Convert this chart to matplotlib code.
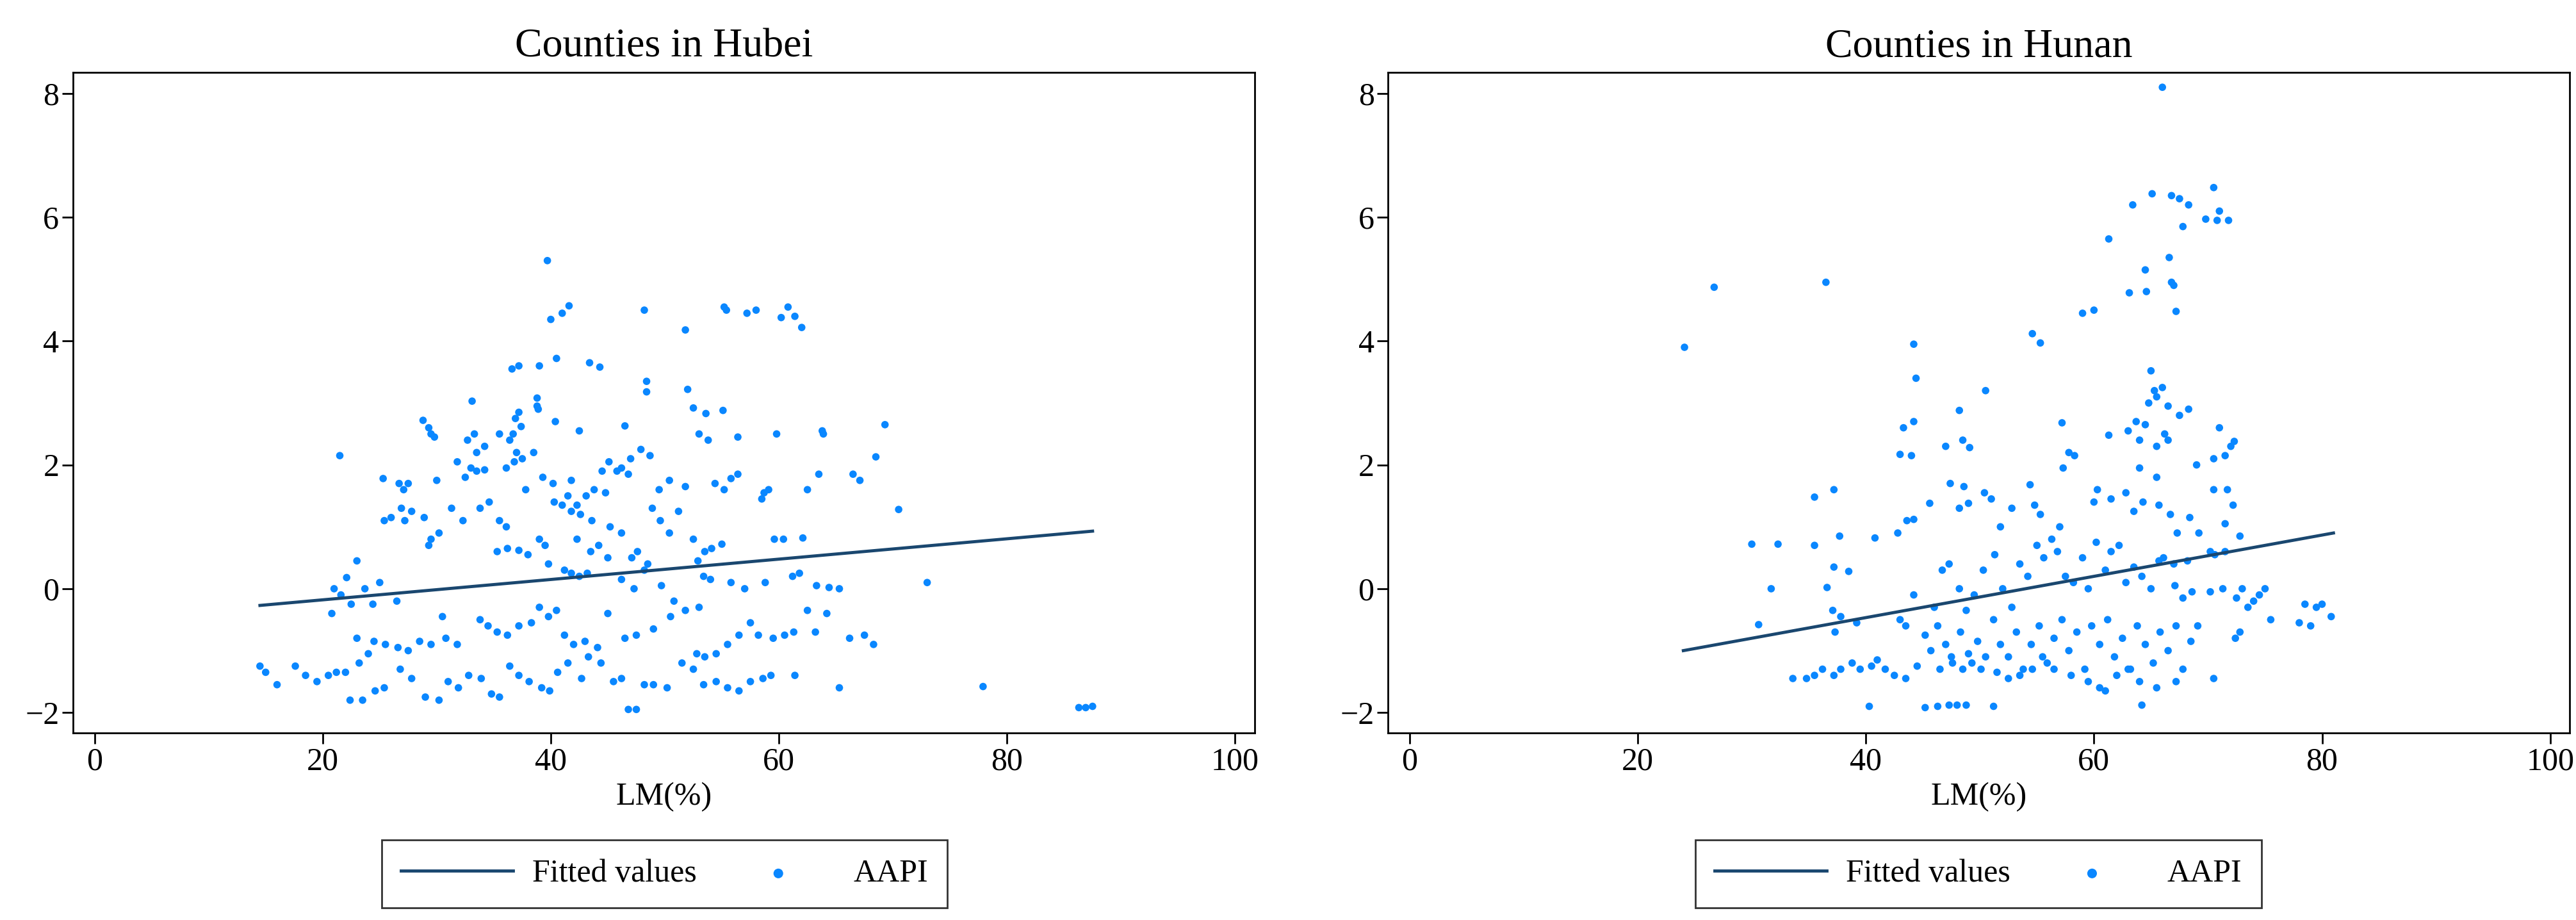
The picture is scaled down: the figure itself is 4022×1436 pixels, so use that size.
import matplotlib
matplotlib.use("Agg")
import matplotlib.pyplot as plt
import numpy as np

plt.rcParams['font.family'] = ['Liberation Serif', 'DejaVu Serif']

# points, (LM %, AAPI)
hubei_pts = [
    (39.7,5.3),(41.6,4.57),(41,4.45),(40,4.35),(48.2,4.5),(51.8,4.18),(55.2,4.55),(55.4,4.5),(57.2,4.45),(58,4.5),
    (60.8,4.55),(60.2,4.38),(61.4,4.4),(62,4.22),(40.5,3.72),(39,3.6),(36.6,3.55),(37.2,3.6),(43.4,3.65),(44.3,3.58),
    (48.4,3.35),(48.4,3.18),(52,3.22),(33.1,3.03),(38.8,3.08),(38.8,2.95),(38.9,2.9),(52.5,2.92),(53.6,2.83),(55.1,2.88),
    (42.5,2.55),(40.4,2.7),(37.2,2.85),(36.9,2.75),(37.4,2.62),(36.7,2.5),(36.4,2.4),(37,2.2),(36.8,2.05),(37.5,2.1),
    (28.8,2.72),(29.3,2.6),(29.5,2.5),(29.8,2.45),(33.3,2.5),(34.2,2.3),(32.7,2.4),(33.5,2.2),(35.5,2.5),(38.5,2.2),
    (46.5,2.63),(53,2.5),(53.8,2.4),(56.4,2.45),(59.8,2.5),(63.8,2.55),(63.9,2.5),(69.3,2.65),(21.5,2.15),(68.5,2.13),
    (47.9,2.25),(48.7,2.15),(47,2.1),(46.2,1.95),(45.8,1.9),(46.8,1.85),(45.1,2.05),(33,1.95),(33.5,1.9),(34.2,1.92),
    (31.8,2.05),(32.5,1.8),(30,1.75),(36.1,1.95),(37.8,1.6),(39.3,1.8),(40.2,1.7),(41.8,1.75),(43.8,1.6),(44.5,1.9),
    (44.8,1.55),(49.5,1.6),(50.4,1.75),(51.8,1.65),(54.4,1.7),(55.2,1.6),(56.4,1.85),(55.8,1.78),(58.7,1.55),(59.1,1.6),
    (58.5,1.45),(63.5,1.85),(66.5,1.85),(67.1,1.75),(62.5,1.6),(70.5,1.28),(25.3,1.78),(26.7,1.7),(27.1,1.6),(27.5,1.7),
    (26.9,1.3),(27.2,1.1),(25.4,1.1),(26,1.15),(27.8,1.25),(28.9,1.15),(29.5,0.8),(29.3,0.7),(30.2,0.9),(31.3,1.3),
    (32.3,1.1),(33.8,1.3),(34.6,1.4),(35.5,1.1),(36.1,1.0),(35.3,0.6),(36.2,0.65),(37.2,0.62),(38,0.55),(39,0.8),
    (39.5,0.7),(39.8,0.4),(40.3,1.4),(41,1.35),(41.5,1.5),(42.3,1.35),(42.6,1.2),(41.8,1.25),(43.1,1.5),(43.6,1.1),
    (42.3,0.8),(43.5,0.6),(44.2,0.7),(45,0.5),(41.2,0.3),(41.8,0.25),(42.5,0.2),(43.2,0.25),(45.2,1.0),(46.2,0.9),
    (47.1,0.5),(47.6,0.6),(48.5,0.4),(48.9,1.3),(49.6,1.1),(50.4,0.9),(51.2,1.25),(52.5,0.8),(53.5,0.6),(54.1,0.65),
    (55,0.72),(52.9,0.45),(53.4,0.2),(54,0.15),(55.8,0.1),(57,0.0),(58.8,0.1),(59.6,0.8),(60.4,0.8),(61.2,0.2),
    (61.8,0.25),(62.1,0.82),(63.3,0.05),(64.4,0.02),(65.3,0.0),(73,0.1),(46.2,0.15),(47.3,0.0),(48.2,0.3),(49.7,0.05),
    (50.8,-0.2),(51.8,-0.35),(53,-0.3),(21,0.0),(21.6,-0.1),(22.1,0.18),(23,0.45),(23.7,0.0),(24.4,-0.25),(25,0.1),
    (26.5,-0.2),(22.5,-0.25),(20.8,-0.4),(23,-0.8),(24.5,-0.85),(25.5,-0.9),(26.6,-0.95),(27.5,-1.0),(28.5,-0.85),(29.5,-0.9),
    (30.8,-0.8),(31.8,-0.9),(30.5,-0.45),(33.8,-0.5),(34.5,-0.6),(35.3,-0.7),(36.2,-0.75),(37.2,-0.6),(38.3,-0.55),(39,-0.3),
    (39.8,-0.45),(40.5,-0.35),(41.2,-0.75),(42,-0.9),(43,-0.85),(44.1,-0.95),(45,-0.4),(46.5,-0.8),(47.5,-0.75),(49,-0.65),
    (50.5,-0.45),(52.8,-1.05),(53.5,-1.1),(54.5,-1.05),(55.5,-0.9),(56.5,-0.75),(57.5,-0.55),(58.2,-0.75),(59.5,-0.8),(60.5,-0.75),
    (61.3,-0.7),(62.5,-0.35),(63.2,-0.7),(64.2,-0.4),(66.2,-0.8),(67.5,-0.75),(68.3,-0.9),(14.5,-1.25),(15,-1.35),(16,-1.55),
    (17.6,-1.25),(18.5,-1.4),(19.5,-1.5),(20.5,-1.4),(21.2,-1.35),(22.4,-1.8),(23.5,-1.8),(24.6,-1.65),(25.4,-1.6),(22,-1.35),
    (23.2,-1.2),(24,-1.05),(26.8,-1.3),(27.8,-1.45),(29,-1.75),(30.2,-1.8),(31,-1.5),(31.9,-1.6),(32.8,-1.4),(33.9,-1.45),
    (34.8,-1.7),(35.5,-1.75),(36.4,-1.25),(37.2,-1.4),(38.1,-1.5),(39.2,-1.6),(39.9,-1.65),(40.6,-1.35),(41.5,-1.2),(42.7,-1.45),
    (43.3,-1.1),(44.4,-1.2),(45.5,-1.5),(46.2,-1.45),(46.8,-1.95),(47.5,-1.95),(48.2,-1.55),(49,-1.55),(50.2,-1.6),(51.5,-1.2),
    (52.5,-1.3),(53.4,-1.55),(54.5,-1.5),(55.5,-1.6),(56.5,-1.65),(57.5,-1.5),(58.6,-1.45),(59.3,-1.4),(61.4,-1.4),(65.3,-1.6),
    (77.9,-1.58),(86.3,-1.92),(86.9,-1.92),(87.5,-1.9),
]

hunan_pts = [
    (66,8.1),(70.5,6.48),(71,6.1),(69.8,5.97),(71.8,5.95),(70.8,5.95),(65.1,6.38),(66.8,6.35),(67.5,6.3),(68.3,6.2),
    (63.4,6.2),(67.8,5.85),(61.3,5.65),(66.6,5.35),(64.5,5.15),(66.8,4.95),(67,4.9),(64.6,4.8),(63.1,4.78),(67.2,4.48),
    (60,4.5),(59,4.45),(54.6,4.12),(55.3,3.97),(24.1,3.9),(26.7,4.87),(36.5,4.95),(44.2,3.95),(44.4,3.4),(65,3.52),
    (65.3,3.2),(66,3.25),(65.5,3.1),(64.8,3.0),(66.5,2.95),(67.5,2.8),(68.3,2.9),(63.7,2.7),(64.5,2.65),(66.2,2.5),
    (66.5,2.4),(65.5,2.3),(64,2.4),(63,2.55),(61.3,2.48),(57.2,2.68),(48.2,2.88),(50.5,3.2),(43.3,2.6),(44.2,2.7),
    (43,2.17),(44,2.15),(47,2.3),(48.5,2.4),(49.1,2.28),(57.8,2.2),(58.3,2.15),(57.3,1.95),(64,1.95),(65.5,1.8),
    (71,2.6),(71.5,2.15),(72.3,2.38),(72,2.3),(70.5,2.1),(69,2.0),(70.5,1.6),(71.7,1.6),(72.2,1.35),(71.5,1.05),
    (72.8,0.85),(35.5,1.48),(37.2,1.6),(30,0.72),(32.3,0.72),(35.5,0.7),(37.7,0.85),(37.2,0.35),(38.5,0.28),(31.7,0.0),
    (36.6,0.02),(30.6,-0.58),(37.1,-0.35),(37.8,-0.45),(37.3,-0.7),(39.2,-0.55),(40.8,0.82),(42.8,0.9),(43.6,1.1),(44.2,1.12),
    (45.6,1.38),(47.4,1.7),(48.6,1.65),(48.2,1.3),(49,1.38),(50.4,1.55),(51,1.45),(51.8,1.0),(52.8,1.3),(54.4,1.68),
    (54.8,1.35),(55.3,1.2),(57,1.0),(60,1.4),(60.3,1.6),(61.5,1.45),(62.8,1.55),(63.5,1.25),(64.3,1.4),(65.7,1.35),
    (66.7,1.2),(67.3,0.9),(68.4,1.15),(69.2,0.9),(66.1,0.5),(67,0.4),(68.2,0.45),(70.2,0.6),(70.6,0.55),(71.5,0.6),
    (44.2,-0.1),(43,-0.5),(43.5,-0.6),(45.2,-0.75),(46,-0.3),(46.7,0.3),(47.3,0.4),(48.2,0.0),(48.8,-0.35),(49.5,-0.1),
    (50.3,0.3),(51.3,0.55),(52,0.0),(52.8,-0.3),(53.5,0.4),(54.2,0.2),(55,0.7),(55.6,0.5),(56.3,0.8),(56.8,0.6),
    (57.5,0.2),(58.2,0.1),(59,0.5),(59.5,0.0),(60.2,0.75),(61,0.3),(61.5,0.6),(62.2,0.7),(62.8,0.1),(63.5,0.35),
    (64.2,0.2),(65,0.0),(65.7,0.45),(67.1,0.05),(67.8,-0.15),(68.6,-0.05),(70.2,-0.05),(71.3,0.0),(72.5,-0.15),(73,0.0),
    (74,-0.2),(74.5,-0.1),(75,0.0),(75.5,-0.5),(72.4,-0.8),(72.8,-0.7),(73.5,-0.3),(78,-0.55),(78.5,-0.25),(79,-0.6),
    (79.5,-0.3),(80,-0.25),(80.8,-0.45),(45.7,-1.0),(46.3,-0.6),(47,-0.9),(47.6,-1.2),(48.3,-0.7),(49,-1.05),(49.8,-0.85),
    (50.5,-1.1),(51.2,-0.5),(51.8,-0.9),(52.5,-1.1),(53.2,-0.7),(53.8,-1.3),(54.5,-0.9),(55.2,-0.6),(55.9,-1.2),(56.5,-0.8),
    (57.2,-0.5),(57.8,-1.0),(58.5,-0.7),(59.2,-1.3),(59.8,-0.6),(60.5,-0.9),(61.2,-0.5),(61.8,-1.1),(62.5,-0.8),(63.2,-1.3),
    (63.8,-0.6),(64.5,-0.9),(65.2,-1.2),(65.8,-0.7),(66.5,-1.0),(67.2,-0.6),(67.8,-1.3),(68.5,-0.85),(69.1,-0.6),(70.5,-1.45),
    (37.2,-1.4),(33.6,-1.45),(34.8,-1.45),(35.5,-1.4),(36.2,-1.3),(37.8,-1.3),(38.8,-1.2),(39.5,-1.3),(40.5,-1.25),(41,-1.15),
    (41.7,-1.3),(42.5,-1.4),(43.5,-1.45),(44.5,-1.25),(46.5,-1.3),(47.5,-1.1),(48.5,-1.3),(49.3,-1.2),(50.1,-1.3),(51.5,-1.35),
    (52.5,-1.45),(53.5,-1.4),(54.6,-1.3),(55.5,-1.1),(56.5,-1.3),(58,-1.4),(59.5,-1.5),(60.5,-1.6),(61,-1.65),(62,-1.4),
    (63,-1.3),(64,-1.5),(65.5,-1.6),(67.2,-1.5),(40.3,-1.9),(45.2,-1.92),(46.3,-1.9),(47.3,-1.88),(48,-1.88),(48.8,-1.88),
    (51.2,-1.9),(64.2,-1.88),
]

# fitted line endpoints (x0, y0, x1, y1)
hubei_fit = (14.5, -0.27, 87.5, 0.93)
hunan_fit = (24.0, -1.0, 81.0, 0.9)

titles = ["Counties in Hubei", "Counties in Hunan"]
xticks = [0, 20, 40, 60, 80, 100]
yticks = [-2, 0, 2, 4, 6, 8]

dot_color = "#0a87ff"
line_color = "#1a476f"

fig = plt.figure(figsize=(40.22, 14.36), dpi=100)
positions = [[0.0283, 0.2033, 0.4587, 0.718], [0.5388, 0.2033, 0.4587, 0.718]]
legend_x = [0.258, 0.768]

for pos, pts, fit, title, lx in zip(positions, [hubei_pts, hunan_pts], [hubei_fit, hunan_fit], titles, legend_x):
    ax = fig.add_axes(pos)
    arr = np.array(pts)
    ln, = ax.plot([fit[0], fit[2]], [fit[1], fit[3]], color=line_color, lw=3.5)
    sc = ax.scatter(arr[:, 0], arr[:, 1], s=70, color=dot_color, edgecolors="none")
    ax.set_xlim(-1.9, 101.7)
    ax.set_ylim(-2.33, 8.34)
    ax.set_xticks(xticks)
    ax.set_yticks(yticks)
    ax.tick_params(labelsize=36, length=12, width=2)
    for s in ax.spines.values():
        s.set_linewidth(2)
    ax.set_title(title, fontsize=46, pad=18)
    ax.set_xlabel("LM(%)", fontsize=36, labelpad=6)
    leg = fig.legend([ln, sc], ["Fitted values", "AAPI"], loc="center", bbox_to_anchor=(lx, 0.05),
                     ncol=2, fontsize=36, frameon=True, fancybox=False, edgecolor="black",
                     handlelength=3.5, columnspacing=0.8, handletextpad=0.6, markerscale=1.3,
                     borderpad=0.6)
    leg.get_frame().set_linewidth(2)

fig.savefig("out.png", dpi=100)
